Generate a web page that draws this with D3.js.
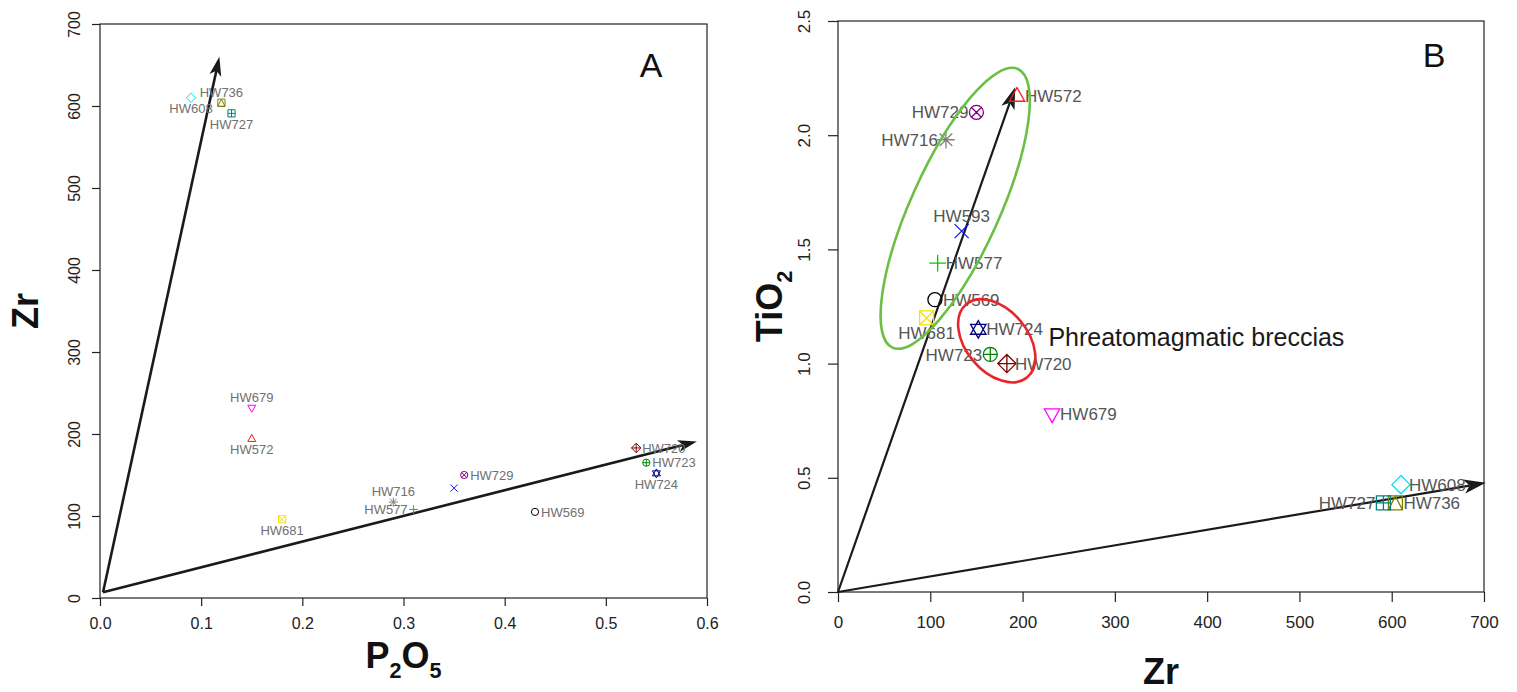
<!DOCTYPE html>
<html>
<head>
<meta charset="utf-8">
<script src="https://cdn.jsdelivr.net/npm/d3@7"></script>
<style>
  body { margin: 0; background: #fff; }
  svg { display: block; font-family: "Liberation Sans", Arial, sans-serif; }
</style>
</head>
<body>
<svg id="chart" width="1517" height="692"></svg>
<script>
// sample data
const samples = ['HW608','HW736','HW727','HW679','HW572','HW681','HW716','HW577','HW593','HW729','HW569','HW720','HW723','HW724'];
const p2o5 = [0.09, 0.12, 0.13, 0.15, 0.15, 0.18, 0.29, 0.31, 0.35, 0.36, 0.43, 0.53, 0.54, 0.55];
const zr   = [610, 604, 591, 232, 194, 96, 117, 108, 134, 150, 105, 183, 165, 152];
const tio2 = [0.47, 0.39, 0.39, 0.78, 2.17, 1.20, 1.98, 1.44, 1.58, 2.10, 1.28, 1.00, 1.04, 1.15];

const ticksP2O5 = [0, 0.1, 0.2, 0.3, 0.4, 0.5, 0.6];
const ticksZrA  = [0, 100, 200, 300, 400, 500, 600, 700];
const ticksZrB  = [0, 100, 200, 300, 400, 500, 600, 700];
const ticksTiO2 = [0, 0.5, 1.0, 1.5, 2.0, 2.5];

// arrow vectors [x0, y0, x1, y1] in data units
const arrowsA = [[0.003, 7, 0.118, 660], [0.003, 7, 0.59, 191]];
const arrowsB = [[0, 0, 192, 2.21], [0, 0, 702, 0.478]];

// ellipses: centre, end of major axis, minor/major ratio (data units)
const groupEllipses = [
  { cx: 127, cy: 1.68, tx: 195, ty: 2.29, ratio: 0.29, color: '#6cbf45' },
  { cx: 172, cy: 1.10, tx: 205, ty: 0.94, ratio: 0.65, color: '#e8262a' }
];
const breccia = { text: 'Phreatomagmatic breccias', x: 228, y: 1.075 };

// symbol + colour for each sample
const style = {
  HW608: ['diamond', '#00e0f0'],
  HW736: ['boxtri', '#808000'],
  HW727: ['boxplus', '#008080'],
  HW679: ['triDown', '#ff00ff'],
  HW572: ['triUp', '#ff1a1a'],
  HW681: ['boxtimes', '#f5e400'],
  HW716: ['asterisk', '#808080'],
  HW577: ['plus', '#00cc00'],
  HW593: ['cross', '#1414ff'],
  HW729: ['otimes', '#800080'],
  HW569: ['circle', '#000000'],
  HW720: ['diamondplus', '#800000'],
  HW723: ['oplus', '#008000'],
  HW724: ['star', '#000080']
};

// label side like R's pos: 1 below, 2 left, 3 above, 4 right, 0 none
const labelPosA = {HW608:1, HW736:3, HW727:1, HW679:3, HW572:1, HW681:1, HW716:3, HW577:2, HW593:0, HW729:4, HW569:4, HW720:4, HW723:4, HW724:1};
const labelPosB = {HW608:4, HW736:4, HW727:2, HW679:4, HW572:4, HW681:1, HW716:2, HW577:4, HW593:3, HW729:2, HW569:4, HW720:4, HW723:2, HW724:4};

const svg = d3.select('#chart');

function symbolPath(type, s) {
  const sq = `M${-s},${-s}H${s}V${s}H${-s}Z`;
  const circ = r => `M${-r},0A${r},${r} 0 1,0 ${r},0A${r},${r} 0 1,0 ${-r},0Z`;
  const dm = 1.3 * s;
  const diam = `M0,${-dm}L${dm},0L0,${dm}L${-dm},0Z`;
  const plusP = r => `M${-r},0H${r}M0,${-r}V${r}`;
  const crossP = r => `M${-r},${-r}L${r},${r}M${-r},${r}L${r},${-r}`;
  const up = `M0,${-1.25 * s}L${1.1 * s},${0.7 * s}L${-1.1 * s},${0.7 * s}Z`;
  const down = `M0,${1.25 * s}L${1.1 * s},${-0.7 * s}L${-1.1 * s},${-0.7 * s}Z`;
  switch (type) {
    case 'circle': return circ(s);
    case 'triUp': return up;
    case 'triDown': return down;
    case 'diamond': return diam;
    case 'plus': return plusP(1.2 * s);
    case 'cross': return crossP(s);
    case 'asterisk': return plusP(1.25 * s) + crossP(0.9 * s);
    case 'boxplus': return sq + plusP(s);
    case 'boxtimes': return sq + crossP(s);
    case 'boxtri': return sq + `M0,${-s}L${s},${s}L${-s},${s}Z`;
    case 'otimes': return circ(s) + crossP(0.7 * s);
    case 'oplus': return circ(s) + plusP(s);
    case 'diamondplus': return diam + plusP(dm);
    case 'star': return up + down;
  }
}

function arrowHead(g, x0, y0, x1, y1, len, wid) {
  const ang = Math.atan2(y1 - y0, x1 - x0);
  const c = Math.cos(ang), s = Math.sin(ang);
  const bx = x1 - len * c, by = y1 - len * s;
  const nx = x1 - len * 0.75 * c, ny = y1 - len * 0.75 * s;
  const pts = [[x1, y1], [bx - wid * s, by + wid * c], [nx, ny], [bx + wid * s, by - wid * c]];
  g.append('path')
    .attr('d', 'M' + pts.map(p => p.join(',')).join('L') + 'Z')
    .attr('fill', '#1a1a1a');
  return [nx, ny];
}

function drawPanel(cfg) {
  const g = svg.append('g');
  const x = d3.scaleLinear().domain(cfg.xDomain).range([cfg.left, cfg.right]);
  const y = d3.scaleLinear().domain(cfg.yDomain).range([cfg.bottom, cfg.top]);

  g.append('rect')
    .attr('x', cfg.left).attr('y', cfg.top)
    .attr('width', cfg.right - cfg.left).attr('height', cfg.bottom - cfg.top)
    .attr('fill', 'none').attr('stroke', '#222').attr('stroke-width', 1.2);

  const xAxis = g.append('g')
    .attr('transform', `translate(0,${cfg.bottom})`)
    .call(d3.axisBottom(x).tickValues(cfg.xTicks).tickFormat(cfg.xFmt).tickSize(cfg.tickLen).tickPadding(cfg.xPad));
  const yAxis = g.append('g')
    .attr('transform', `translate(${cfg.left},0)`)
    .call(d3.axisLeft(y).tickValues(cfg.yTicks).tickFormat(cfg.yFmt).tickSize(cfg.tickLen));
  [xAxis, yAxis].forEach(a => {
    a.select('.domain').remove();
    a.selectAll('line').attr('stroke', '#222').attr('stroke-width', 1.2);
    a.selectAll('text')
      .attr('fill', '#222')
      .style('font-family', cfg.tickFont)
      .style('font-size', cfg.tickSize + 'px');
  });
  yAxis.selectAll('text')
    .attr('transform', 'rotate(-90)')
    .attr('x', 0).attr('y', -cfg.yPad).attr('dy', 0)
    .style('text-anchor', 'middle');

  // loading arrows
  cfg.arrows.forEach(([a, b, c, d]) => {
    const x0 = x(a), y0 = y(b), x1 = x(c), y1 = y(d);
    const [nx, ny] = arrowHead(g, x0, y0, x1, y1, cfg.headLen, cfg.headWid);
    g.append('line')
      .attr('x1', x0).attr('y1', y0).attr('x2', nx).attr('y2', ny)
      .attr('stroke', '#1a1a1a').attr('stroke-width', cfg.arrowW);
  });

  // points
  samples.forEach((name, i) => {
    const px = x(cfg.xs[i]), py = y(cfg.ys[i]);
    const [type, col] = style[name];
    g.append('path')
      .attr('transform', `translate(${px},${py})`)
      .attr('d', symbolPath(type, cfg.symSize))
      .attr('fill', 'none')
      .attr('stroke', col)
      .attr('stroke-width', cfg.symW);

    const pos = cfg.labelPos[name];
    if (!pos) return;
    const t = g.append('text')
      .text(name)
      .attr('fill', cfg.labelColor)
      .style('font-size', cfg.labelSize + 'px');
    const half = cfg.labelSize * 0.36;
    if (pos === 1) t.attr('x', px).attr('y', py + cfg.offV + 2 * half).attr('text-anchor', 'middle');
    if (pos === 3) t.attr('x', px).attr('y', py - cfg.offV).attr('text-anchor', 'middle');
    if (pos === 2) t.attr('x', px - cfg.offH).attr('y', py + half).attr('text-anchor', 'end');
    if (pos === 4) t.attr('x', px + cfg.offH).attr('y', py + half).attr('text-anchor', 'start');
  });

  // panel letter
  g.append('text')
    .text(cfg.letter)
    .attr('x', cfg.letterX).attr('y', cfg.letterY)
    .attr('text-anchor', 'middle')
    .attr('fill', '#111')
    .style('font-size', '34px');

  // axis titles with subscripts
  const xt = g.append('text')
    .attr('x', (cfg.left + cfg.right) / 2).attr('y', cfg.xTitleY)
    .attr('text-anchor', 'middle')
    .style('font-weight', 'bold').style('font-size', cfg.titleSize + 'px').attr('fill', '#111');
  cfg.xTitle.forEach(([txt, sub]) => {
    xt.append('tspan').text(txt)
      .attr('dy', sub ? 10 : (xt.selectAll('tspan').size() > 1 ? -10 : 0))
      .style('font-size', sub ? (cfg.titleSize * 0.6) + 'px' : null);
  });
  const yt = g.append('text')
    .attr('transform', `translate(${cfg.yTitleX},${(cfg.top + cfg.bottom) / 2}) rotate(-90)`)
    .attr('text-anchor', 'middle')
    .style('font-weight', 'bold').style('font-size', cfg.titleSize + 'px').attr('fill', '#111');
  cfg.yTitle.forEach(([txt, sub]) => {
    yt.append('tspan').text(txt)
      .attr('dy', sub ? 10 : (yt.selectAll('tspan').size() > 1 ? -10 : 0))
      .style('font-size', sub ? (cfg.titleSize * 0.6) + 'px' : null);
  });

  return { g, x, y };
}

drawPanel({
  left: 100, right: 707, top: 24, bottom: 598,
  xDomain: [0, 0.6], yDomain: [0, 700],
  xTicks: ticksP2O5, yTicks: ticksZrA,
  xFmt: d3.format('.1f'), yFmt: d3.format('d'),
  tickLen: 8, xPad: 12, yPad: 20,
  tickFont: '"Liberation Sans Narrow", "Liberation Sans", Arial, sans-serif', tickSize: 16,
  xs: p2o5, ys: zr,
  arrows: arrowsA, headLen: 19, headWid: 6, arrowW: 2.6,
  symSize: 3.6, symW: 1, labelPos: labelPosA, labelSize: 13, labelColor: '#707070', offH: 6, offV: 6,
  letter: 'A', letterX: 651, letterY: 77,
  titleSize: 36, xTitle: [['P'], ['2', true], ['O'], ['5', true]], xTitleY: 668,
  yTitle: [['Zr']], yTitleX: 38
});

const pB = drawPanel({
  left: 838, right: 1484, top: 21, bottom: 592,
  xDomain: [0, 700], yDomain: [0, 2.5],
  xTicks: ticksZrB, yTicks: ticksTiO2,
  xFmt: d3.format('d'), yFmt: d3.format('.1f'),
  tickLen: 10, xPad: 14, yPad: 28,
  tickFont: '"Liberation Sans", Arial, sans-serif', tickSize: 17,
  xs: zr, ys: tio2,
  arrows: arrowsB, headLen: 22, headWid: 7, arrowW: 2.2,
  symSize: 7, symW: 1.3, labelPos: labelPosB, labelSize: 17, labelColor: '#555', offH: 8, offV: 9,
  letter: 'B', letterX: 1434, letterY: 67,
  titleSize: 36, xTitle: [['Zr']], xTitleY: 684,
  yTitle: [['TiO'], ['2', true]], yTitleX: 782
});

// group ellipses in panel B
groupEllipses.forEach(e => {
  const cx = pB.x(e.cx), cy = pB.y(e.cy);
  const tx = pB.x(e.tx), ty = pB.y(e.ty);
  const a = Math.hypot(tx - cx, ty - cy);
  const ang = Math.atan2(ty - cy, tx - cx) * 180 / Math.PI;
  pB.g.append('ellipse')
    .attr('cx', cx).attr('cy', cy)
    .attr('rx', a).attr('ry', a * e.ratio)
    .attr('transform', `rotate(${ang},${cx},${cy})`)
    .attr('fill', 'none').attr('stroke', e.color).attr('stroke-width', 2.6);
});

pB.g.append('text')
  .text(breccia.text)
  .attr('x', pB.x(breccia.x)).attr('y', pB.y(breccia.y))
  .attr('fill', '#1a1a1a')
  .style('font-size', '25px');
</script>
</body>
</html>
